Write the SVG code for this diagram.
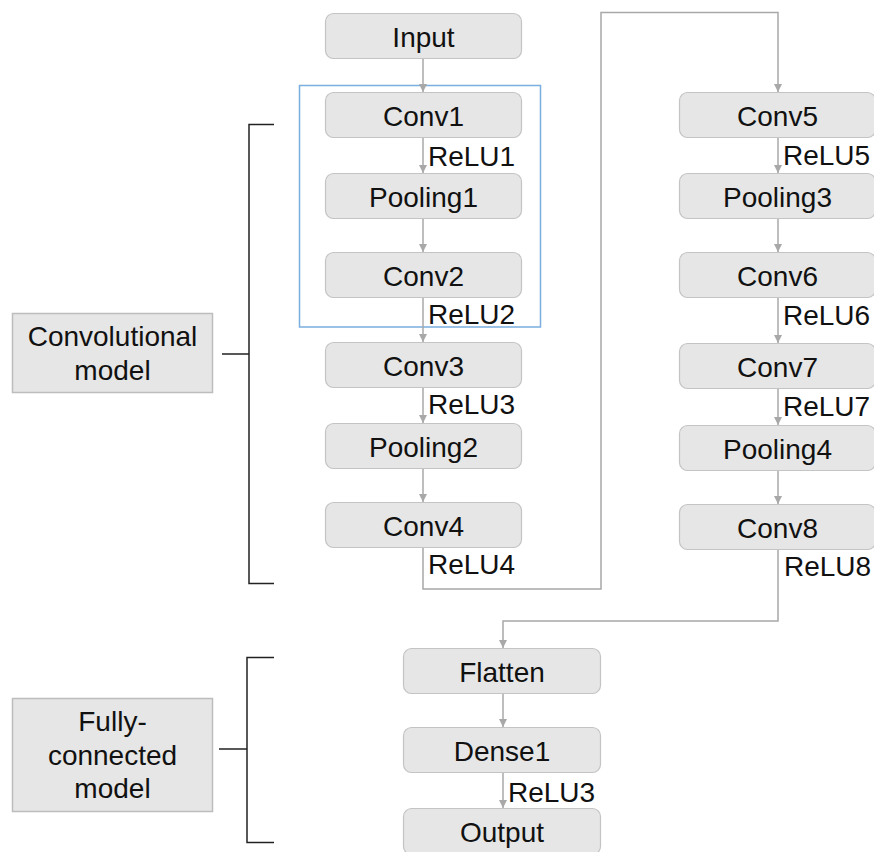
<svg xmlns="http://www.w3.org/2000/svg" width="874" height="852" viewBox="0 0 874 852">
  <defs>
    <style>
      .node rect { fill: #e6e6e6; stroke: #c4c4c4; stroke-width: 1.2; }
      .label rect { fill: #e6e6e6; stroke: #bdbdbd; stroke-width: 1.5; }
      text { font-family: "Liberation Sans", Arial, sans-serif; font-size: 28px; fill: #111; }
      .ctr { text-anchor: middle; }
      .edge { fill: none; stroke: #a8a8a8; stroke-width: 1.5; }
      .bracket { fill: none; stroke: #222; stroke-width: 1.5; }
    </style>
    <marker id="arrow" viewBox="0 0 10 10" refX="10" refY="5" markerWidth="8" markerHeight="8" markerUnits="userSpaceOnUse" orient="auto">
      <path d="M0,0 L10,5 L0,10 Z" fill="#a8a8a8"/>
    </marker>
  </defs>
  <rect width="874" height="852" fill="#ffffff"/>

  <!-- block highlight around Conv1 .. Conv2 -->
  <rect x="299.5" y="85.5" width="241" height="241.5" fill="none" stroke="#7aaede" stroke-width="1.5"/>

  <!-- side brackets -->
  <g id="brackets">
    <path class="bracket" d="M274 124.5 H249 V583.5 H274 M222 354 H249"/>
    <path class="bracket" d="M274 657.5 H247 V842.5 H274 M219 749 H247"/>
  </g>

  <!-- group labels -->
  <g id="label-conv" class="label">
    <rect x="12.5" y="313.5" width="200" height="79"/>
    <text class="ctr" x="112.5" y="346">Convolutional</text>
    <text class="ctr" x="112.5" y="380">model</text>
  </g>
  <g id="label-fc" class="label">
    <rect x="12.5" y="698.5" width="200" height="113"/>
    <text class="ctr" x="112.5" y="731">Fully-</text>
    <text class="ctr" x="112.5" y="765">connected</text>
    <text class="ctr" x="112.5" y="798">model</text>
  </g>

  <!-- connectors -->
  <g id="connectors">
    <path class="edge" marker-end="url(#arrow)" d="M423 58 V92"/>
    <path class="edge" marker-end="url(#arrow)" d="M423 138 V173"/>
    <path class="edge" marker-end="url(#arrow)" d="M423 219 V252"/>
    <path class="edge" marker-end="url(#arrow)" d="M423 298 V342"/>
    <path class="edge" marker-end="url(#arrow)" d="M423 387 V423"/>
    <path class="edge" marker-end="url(#arrow)" d="M423 469 V502"/>
    <path class="edge" marker-end="url(#arrow)" d="M423 547 V589 H601 V12.5 H778 V92"/>
    <path class="edge" marker-end="url(#arrow)" d="M778 138 V173"/>
    <path class="edge" marker-end="url(#arrow)" d="M778 219 V252"/>
    <path class="edge" marker-end="url(#arrow)" d="M778 298 V343"/>
    <path class="edge" marker-end="url(#arrow)" d="M778 389 V425"/>
    <path class="edge" marker-end="url(#arrow)" d="M778 471 V504"/>
    <path class="edge" marker-end="url(#arrow)" d="M778 550 V621 H503 V648"/>
    <path class="edge" marker-end="url(#arrow)" d="M503 694 V727"/>
    <path class="edge" marker-end="url(#arrow)" d="M503 773 V808"/>
  </g>

  <!-- activation labels on the connectors -->
  <g id="activations">
    <text x="428" y="166">ReLU1</text>
    <text x="428" y="324">ReLU2</text>
    <text x="428" y="414">ReLU3</text>
    <text x="428" y="574">ReLU4</text>
    <text x="783" y="165">ReLU5</text>
    <text x="783" y="325">ReLU6</text>
    <text x="783" y="416">ReLU7</text>
    <text x="784" y="576">ReLU8</text>
    <text x="508" y="802">ReLU3</text>
  </g>

  <!-- first column -->
  <g id="input" class="node"><rect x="325.5" y="13.5" width="196" height="45" rx="8"/><text class="ctr" x="423.5" y="47">Input</text></g>
  <g id="conv1" class="node"><rect x="325.5" y="92.5" width="196" height="45" rx="8"/><text class="ctr" x="423.5" y="126">Conv1</text></g>
  <g id="pooling1" class="node"><rect x="325.5" y="173.5" width="196" height="45" rx="8"/><text class="ctr" x="423.5" y="207">Pooling1</text></g>
  <g id="conv2" class="node"><rect x="325.5" y="252.5" width="196" height="45" rx="8"/><text class="ctr" x="423.5" y="286">Conv2</text></g>
  <g id="conv3" class="node"><rect x="325.5" y="342.5" width="196" height="45" rx="8"/><text class="ctr" x="423.5" y="376">Conv3</text></g>
  <g id="pooling2" class="node"><rect x="325.5" y="423.5" width="196" height="45" rx="8"/><text class="ctr" x="423.5" y="457">Pooling2</text></g>
  <g id="conv4" class="node"><rect x="325.5" y="502.5" width="196" height="45" rx="8"/><text class="ctr" x="423.5" y="536">Conv4</text></g>

  <!-- second column -->
  <g id="conv5" class="node"><rect x="679.5" y="92.5" width="196" height="45" rx="8"/><text class="ctr" x="777.5" y="126">Conv5</text></g>
  <g id="pooling3" class="node"><rect x="679.5" y="173.5" width="196" height="45" rx="8"/><text class="ctr" x="777.5" y="207">Pooling3</text></g>
  <g id="conv6" class="node"><rect x="679.5" y="252.5" width="196" height="45" rx="8"/><text class="ctr" x="777.5" y="286">Conv6</text></g>
  <g id="conv7" class="node"><rect x="679.5" y="343.5" width="196" height="45" rx="8"/><text class="ctr" x="777.5" y="377">Conv7</text></g>
  <g id="pooling4" class="node"><rect x="679.5" y="425.5" width="196" height="45" rx="8"/><text class="ctr" x="777.5" y="459">Pooling4</text></g>
  <g id="conv8" class="node"><rect x="679.5" y="504.5" width="196" height="45" rx="8"/><text class="ctr" x="777.5" y="538">Conv8</text></g>

  <!-- dense head -->
  <g id="flatten" class="node"><rect x="403.5" y="648.5" width="197" height="45" rx="8"/><text class="ctr" x="502" y="682">Flatten</text></g>
  <g id="dense1" class="node"><rect x="403.5" y="727.5" width="197" height="45" rx="8"/><text class="ctr" x="502" y="761">Dense1</text></g>
  <g id="output" class="node"><rect x="403.5" y="808.5" width="197" height="46" rx="8"/><text class="ctr" x="502" y="842">Output</text></g>
</svg>
